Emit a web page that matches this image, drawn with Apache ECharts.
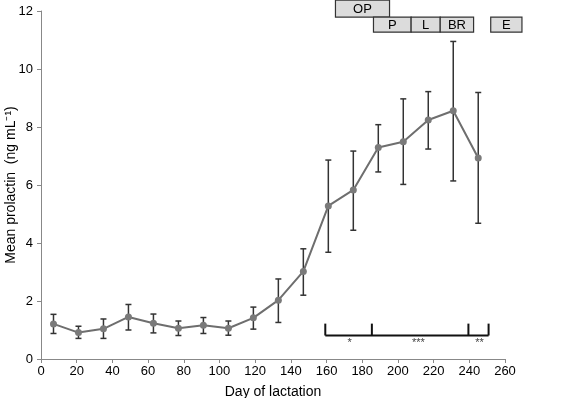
<!DOCTYPE html>
<html>
<head>
<meta charset="utf-8">
<script src="https://cdn.jsdelivr.net/npm/echarts@6/dist/echarts.min.js"></script>
<style>
html, body { margin: 0; padding: 0; background: #fff; }
#main { width: 567px; height: 398px; }
</style>
</head>
<body>
<div id="main"></div>
<script>
// day of lactation and mean prolactin (ng/mL) with error bar ends
var days = [7, 21, 35, 49, 63, 77, 91, 105, 119, 133, 147, 161, 175, 189, 203, 217, 231, 245];
var means = [1.21, 0.91, 1.04, 1.45, 1.23, 1.06, 1.16, 1.06, 1.42, 2.03, 3.02, 5.28, 5.83, 7.29, 7.49, 8.24, 8.56, 6.93];
var errHigh = [1.54, 1.13, 1.38, 1.88, 1.55, 1.31, 1.43, 1.31, 1.79, 2.76, 3.80, 6.86, 7.17, 8.08, 8.97, 9.22, 10.95, 9.19];
var errLow = [0.88, 0.71, 0.71, 1.00, 0.90, 0.81, 0.88, 0.82, 1.03, 1.26, 2.20, 3.68, 4.44, 6.45, 6.02, 7.24, 6.14, 4.68];

// stage boxes: [label, start day, end day, row]
var stages = [
  ['OP', 165, 195.3, 0],
  ['P', 186.3, 207.4, 1],
  ['L', 207.4, 223.7, 1],
  ['BR', 223.7, 242.4, 1],
  ['E', 252, 269.5, 1]
];
// significance bracket tick days and labels
var bracketTicks = [159.3, 185.4, 239.5, 250.8];
var bracketLabels = [['*', 172.9], ['***', 211.5], ['**', 245.7]];

var chart = echarts.init(document.getElementById('main'));
var font = 'Liberation Sans, Arial, sans-serif';

var option = {
  animation: false,
  grid: { left: 41, right: 62, top: 11, bottom: 39, containLabel: false, outerBoundsMode: 'none' },
  xAxis: {
    type: 'value', min: 0, max: 260, interval: 20,
    name: 'Day of lactation', nameLocation: 'middle', nameGap: 26, nameMoveOverlap: false,
    nameTextStyle: { fontSize: 14, color: '#000', fontFamily: font },
    axisLine: { lineStyle: { color: '#888', width: 1 } },
    axisTick: { show: true, length: 4, lineStyle: { color: '#888' } },
    axisLabel: { fontSize: 13, color: '#000', fontFamily: font, margin: 6 },
    splitLine: { show: false }
  },
  yAxis: {
    type: 'value', min: 0, max: 12, interval: 2,
    name: 'Mean prolactin  (ng mL\u207B\u00B9)', nameLocation: 'middle', nameGap: 23, nameMoveOverlap: false,
    nameTextStyle: { fontSize: 14, color: '#000', fontFamily: font },
    axisLine: { show: true, lineStyle: { color: '#888', width: 1 } },
    axisTick: { show: true, length: 4, lineStyle: { color: '#888' } },
    axisLabel: { fontSize: 13, color: '#000', fontFamily: font, margin: 8 },
    splitLine: { show: false }
  },
  series: [
    {
      type: 'custom',
      name: 'errors',
      data: days.map(function (d, i) { return [d, errLow[i], errHigh[i]]; }),
      renderItem: function (params, api) {
        var lo = api.coord([api.value(0), api.value(1)]);
        var hi = api.coord([api.value(0), api.value(2)]);
        var cap = 3;
        var st = { stroke: '#333', lineWidth: 1.5 };
        return {
          type: 'group',
          children: [
            { type: 'line', shape: { x1: hi[0], y1: hi[1], x2: lo[0], y2: lo[1] }, style: st },
            { type: 'line', shape: { x1: hi[0] - cap, y1: hi[1], x2: hi[0] + cap, y2: hi[1] }, style: st },
            { type: 'line', shape: { x1: lo[0] - cap, y1: lo[1], x2: lo[0] + cap, y2: lo[1] }, style: st }
          ]
        };
      },
      z: 2
    },
    {
      type: 'line',
      data: days.map(function (d, i) { return [d, means[i]]; }),
      symbol: 'circle', symbolSize: 7,
      lineStyle: { color: '#6e6e6e', width: 2 },
      itemStyle: { color: '#7a7a7a' },
      z: 3
    },
    {
      type: 'custom',
      name: 'stages',
      clip: false,
      data: stages.map(function (s) { return [s[1], s[2], s[3]]; }),
      renderItem: function (params, api) {
        var s = stages[params.dataIndex];
        var row = api.value(2);
        var yTop = row === 0 ? 12.37 : 11.79;
        var yBot = row === 0 ? 11.79 : 11.27;
        var p0 = api.coord([api.value(0), yTop]);
        var p1 = api.coord([api.value(1), yBot]);
        return {
          type: 'group',
          children: [
            { type: 'rect', shape: { x: p0[0], y: p0[1], width: p1[0] - p0[0], height: p1[1] - p0[1] },
              style: { fill: '#dcdcdc', stroke: '#333', lineWidth: 1.2 } },
            { type: 'text', style: { x: (p0[0] + p1[0]) / 2, y: (p0[1] + p1[1]) / 2 + 0.5, text: s[0],
              fill: '#000', font: '13px ' + font, align: 'center', verticalAlign: 'middle' } }
          ]
        };
      }
    },
    {
      type: 'custom',
      name: 'bracket',
      clip: false,
      data: [[bracketTicks[0], 0.81]],
      renderItem: function (params, api) {
        var st = { stroke: '#111', lineWidth: 2 };
        var a = api.coord([bracketTicks[0], 0.81]);
        var b = api.coord([bracketTicks[bracketTicks.length - 1], 0.81]);
        var children = [{ type: 'line', shape: { x1: a[0], y1: a[1], x2: b[0], y2: b[1] }, style: st }];
        bracketTicks.forEach(function (t) {
          var p = api.coord([t, 0.81]);
          var q = api.coord([t, 1.22]);
          children.push({ type: 'line', shape: { x1: p[0], y1: p[1], x2: q[0], y2: q[1] }, style: st });
        });
        bracketLabels.forEach(function (l) {
          var p = api.coord([l[1], 0.56]);
          children.push({ type: 'text', style: { x: p[0], y: p[1], text: l[0], fill: '#444',
            font: '11px ' + font, align: 'center', verticalAlign: 'middle' } });
        });
        return { type: 'group', children: children };
      }
    }
  ]
};
chart.setOption(option);
</script>
</body>
</html>
